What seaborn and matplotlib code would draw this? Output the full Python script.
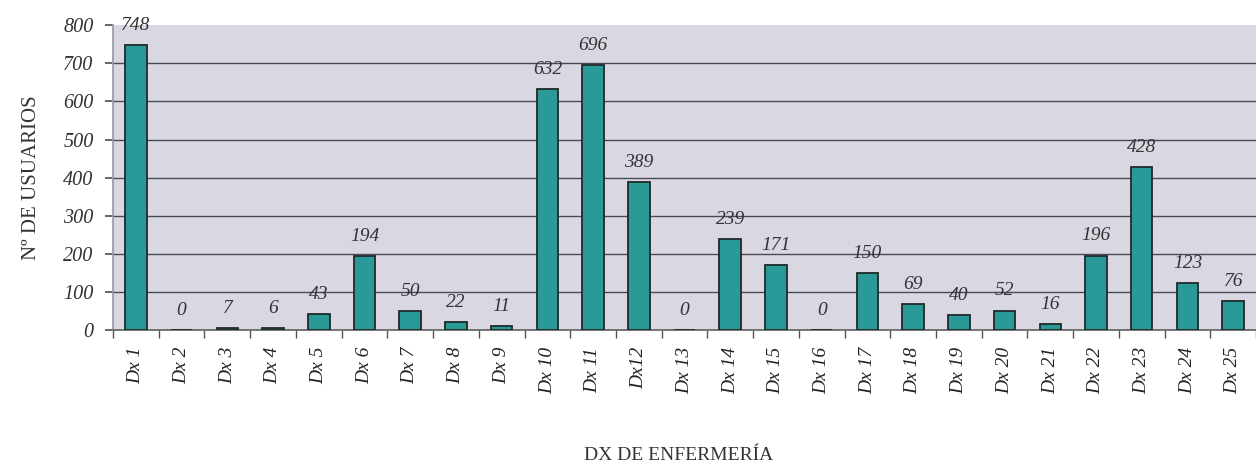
import pandas as pd
import matplotlib
matplotlib.use("Agg")
import matplotlib.pyplot as plt
import seaborn as sns
import numpy as np

# data
categories = ["Dx 1", "Dx 2", "Dx 3", "Dx 4", "Dx 5", "Dx 6", "Dx 7", "Dx 8", "Dx 9",
              "Dx 10", "Dx 11", "Dx12", "Dx 13", "Dx 14", "Dx 15", "Dx 16", "Dx 17",
              "Dx 18", "Dx 19", "Dx 20", "Dx 21", "Dx 22", "Dx 23", "Dx 24", "Dx 25"]
usuarios = [748, 0, 7, 6, 43, 194, 50, 22, 11, 632, 696, 389, 0, 239, 171, 0, 150,
            69, 40, 52, 16, 196, 428, 123, 76]
y_ticks = [0, 100, 200, 300, 400, 500, 600, 700, 800]

df = pd.DataFrame({"Dx": categories, "Usuarios": usuarios})

sns.set_theme(style="white")
plt.rcParams["font.family"] = ["Liberation Serif", "DejaVu Serif"]

fig = plt.figure(figsize=(12.56, 4.72), dpi=100)
ax = fig.add_axes([0.09, 0.30, 0.91, 0.647])
ax.set_facecolor("#d9d7e2")

sns.barplot(data=df, x="Dx", y="Usuarios", color="#2a9a98", width=0.47,
            edgecolor="#1f2a2a", linewidth=1.3, saturation=1, ax=ax, zorder=3)

# value labels above bars
for i, v in enumerate(usuarios):
    ax.annotate(str(v), (i, v), xytext=(0, 8), textcoords="offset points",
                ha="center", va="bottom", fontsize=14, style="italic", color="#333333")

ax.set_ylim(0, 800)
ax.set_xlim(-0.5, 24.3)
ax.set_yticks(y_ticks)
ax.set_yticklabels([str(t) for t in y_ticks], fontsize=14.5, style="italic", color="#333333")
ax.yaxis.grid(True, color="#4a4a55", linewidth=1.0, zorder=0)
ax.get_ygridlines()[-1].set_visible(False)
ax.set_axisbelow(True)

# category labels, ticks between categories like the original
ax.set_xticks(range(len(categories)))
ax.set_xticklabels(categories, rotation=90, fontsize=14, style="italic", color="#222222")
ax.tick_params(axis="x", length=0, pad=12)
ax.set_xticks(np.arange(-0.5, len(categories), 1), minor=True)
ax.tick_params(axis="x", which="minor", length=6, color="#555555", bottom=True, direction="out")
ax.tick_params(axis="y", length=6, color="#555555", left=True, direction="out", pad=8)

for s in ["top", "right"]:
    ax.spines[s].set_visible(False)
ax.spines["left"].set_color("#9a9aa5")
ax.spines["bottom"].set_color("#666666")

ax.set_ylabel("Nº DE USUARIOS", fontsize=15, color="#333333", labelpad=16)
ax.set_xlabel("")
fig.text(0.54, 0.035, "DX DE ENFERMERÍA", ha="center", va="center", fontsize=14, color="#333333")

plt.savefig("out.png", dpi=100)
